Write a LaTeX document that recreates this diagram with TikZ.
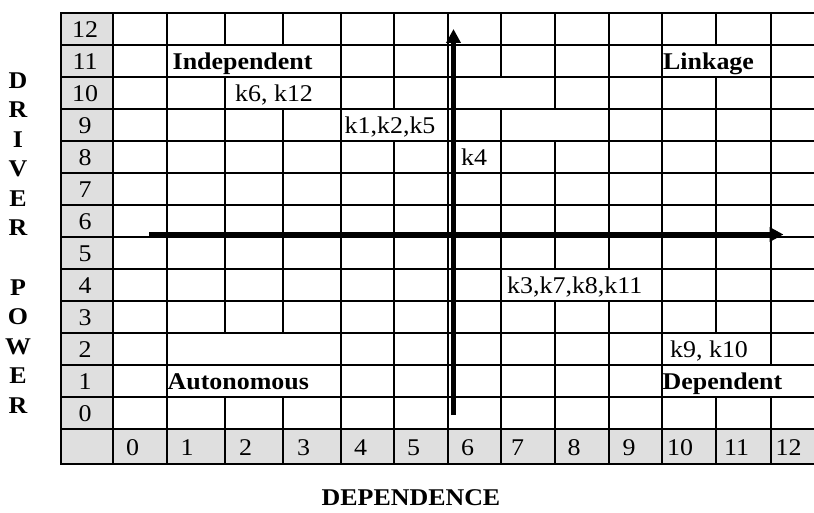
\documentclass[tikz,border=0pt]{standalone}
\usepackage{fontspec}
\setmainfont{Liberation Serif}[FakeStretch=1.08]
\usetikzlibrary{arrows.meta}

\begin{document}
\begin{tikzpicture}[x=1pt, y=-1pt,
    every node/.style={inner sep=0pt, font=\fontsize{24}{28}\selectfont},
    quadname/.style={font=\fontsize{24}{28}\selectfont\bfseries},
    gridline/.style={line width=1.8pt, line cap=rect},
    axis/.style={line width=4.2pt, -{Triangle[length=14pt, width=14pt]}}]
    \useasboundingbox (0,0) rectangle (814,513);
    \clip (0,0) rectangle (814,513);
    % Header cells in gray
    \fill[gray!25] (60.7,12.7) rectangle (113.3,464.3);
    \fill[gray!25] (113.3,429.3) rectangle (830,464.3);
    % Horizontal rules (every row line is complete)
    \foreach \y in {12.7,44.7,76.7,108.7,140.7,172.7,204.7,236.7,269,301.3,333.3,365.3,397.3,429.3,464.3}
        \draw[gridline] (60.7,\y) -- (830,\y);
    % Vertical rules, broken where cells are merged
    \foreach \x/\ya/\yb in {60.7/12.7/464.3, 113.3/12.7/464.3, 167.3/12.7/464.3,
            225/12.7/44.7, 225/76.7/333.3, 225/397.3/464.3,
            283.3/12.7/44.7, 283.3/108.7/333.3, 283.3/397.3/464.3,
            341/12.7/464.3,
            394.3/12.7/108.7, 394.3/140.7/464.3,
            447.7/12.7/464.3,
            501/12.7/76.7, 501/108.7/464.3,
            555/12.7/108.7, 555/140.7/269, 555/301.3/464.3,
            609/12.7/269, 609/301.3/464.3,
            662.3/12.7/464.3,
            716/12.7/44.7, 716/76.7/333.3, 716/397.3/464.3,
            770.7/12.7/365.3, 770.7/397.3/464.3,
            825/12.7/464.3}
        \draw[gridline] (\x,\ya) -- (\x,\yb);
    % Row numbers (driver power)
    \foreach \n [evaluate=\n as \yb using 421.9-32.05*\n] in {0,...,12}
        \node[anchor=base] (r\n) at (85,\yb) {\n};
    % Column numbers (dependence)
    \foreach \n/\xs in {0/126, 1/180.5, 2/239, 3/297, 4/354, 5/407, 6/461, 7/511,
            8/567.5, 9/622.5, 10/667, 11/724, 12/775.5}
        \node[anchor=base west] (c\n) at (\xs,455) {\n};
    % Quadrant names
    \node[quadname, anchor=base west] (indep) at (172.5,69.3) {Independent};
    \node[quadname, anchor=base west] (link) at (663,69.3) {Linkage};
    \node[quadname, anchor=base west] (auto) at (167.5,389.9) {Autonomous};
    \node[quadname, anchor=base west] (depd) at (662.5,389.9) {Dependent};
    % Factors placed in the matrix
    \node[anchor=base west] (f612) at (235,101.3) {k6, k12};
    \node[anchor=base west] (f125) at (344.5,133.3) {k1,k2,k5};
    \node[anchor=base west] (f4) at (461,165.3) {k4};
    \node[anchor=base west] (f3781) at (507,293.9) {k3,k7,k8,k11};
    \node[anchor=base west] (f910) at (670,357.9) {k9, k10};
    % Axis titles
    \foreach \c/\yb [count=\k] in {D/88.5, R/118, I/147.5, V/177, E/206.5, R/236,
            P/295, O/324.5, W/354, E/383.5, R/413}
        \node[quadname, anchor=base] (dp\k) at (18,\yb) {\c};
    \node[quadname, anchor=base] (dep) at (411,505) {DEPENDENCE};
    % Quadrant axes
    \coordinate (hs) at (149,234.5);
    \coordinate (he) at (783.5,234.5);
    \coordinate (vs) at (453.5,415);
    \coordinate (ve) at (453.5,29);
    \draw[axis] (hs) -- (he);
    \draw[axis] (vs) -- (ve);
\end{tikzpicture}
\end{document}
